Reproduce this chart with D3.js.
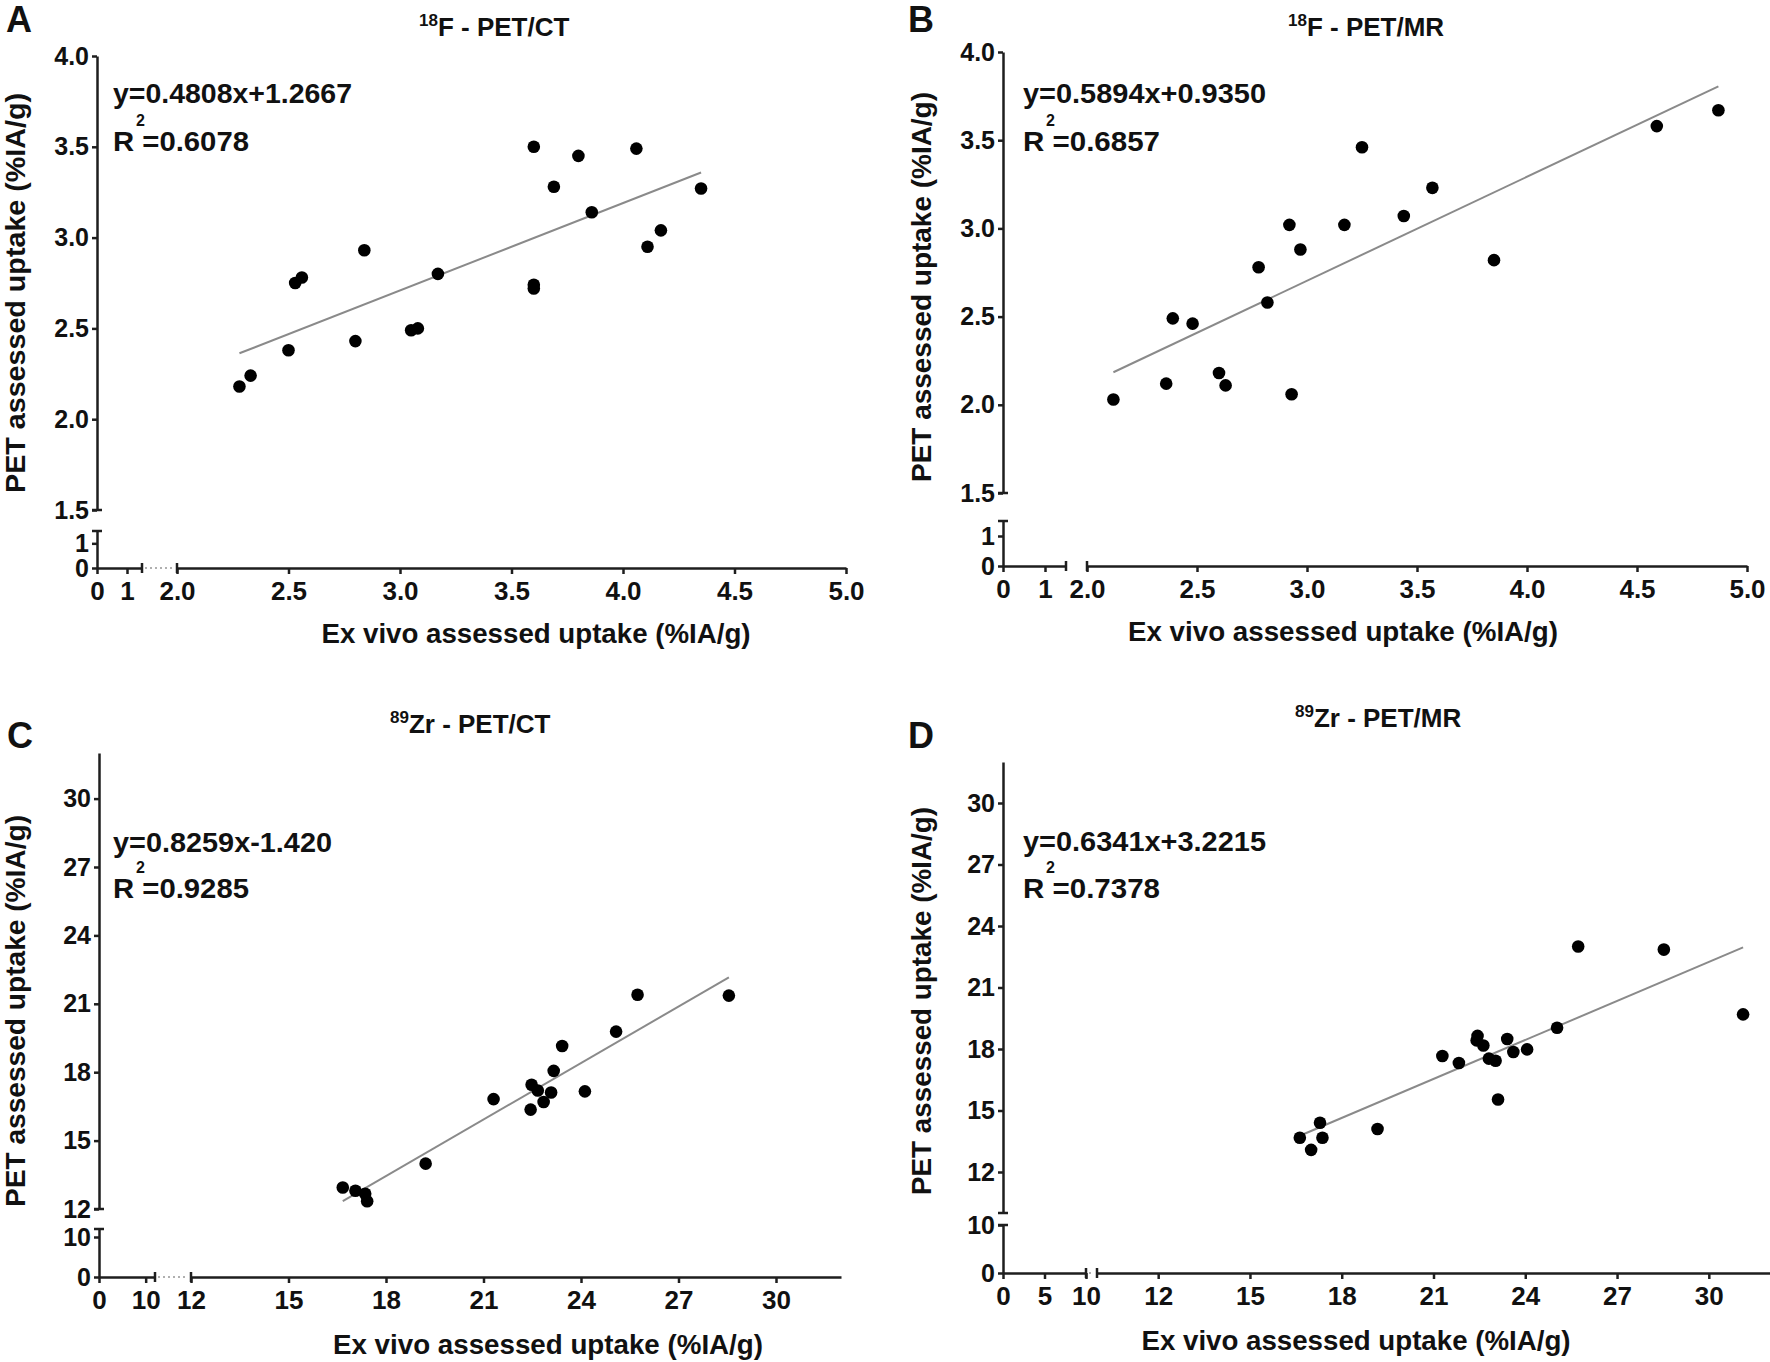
<!DOCTYPE html>
<html><head><meta charset="utf-8">
<script src="https://cdn.jsdelivr.net/npm/d3@7"></script>
<style>
body{margin:0;background:#fff;}
svg{display:block;}
</style></head><body>
<svg id="chart" width="1770" height="1362"></svg>
<script>
// ---------------- DATA ----------------
const panelLetters = ["A", "B", "C", "D"];
const panelIsotopes = ["18", "18", "89", "89"];
const panelTitles = ["F - PET/CT", "F - PET/MR", "Zr - PET/CT", "Zr - PET/MR"];
const xAxisTitle = "Ex vivo assessed uptake (%IA/g)";
const yAxisTitle = "PET assessed uptake (%IA/g)";

const equations = ["y=0.4808x+1.2667", "y=0.5894x+0.9350", "y=0.8259x-1.420", "y=0.6341x+3.2215"];
const r2Labels = ["R =0.6078", "R =0.6857", "R =0.9285", "R =0.7378"];
const slopes = [0.4808, 0.5894, 0.8259, 0.6341];
const intercepts = [1.2667, 0.9350, -1.420, 3.2215];

// Panel A: 18F PET/CT
const aExVivo = [2.28, 2.33, 2.50, 2.53, 2.56, 2.80, 2.84, 3.05, 3.08, 3.17, 3.60, 3.60, 3.60, 3.69, 3.80, 3.86, 4.06, 4.11, 4.17, 4.35];
const aPET    = [2.18, 2.24, 2.38, 2.75, 2.78, 2.43, 2.93, 2.49, 2.50, 2.80, 3.50, 2.74, 2.72, 3.28, 3.45, 3.14, 3.49, 2.95, 3.04, 3.27];
// Panel B: 18F PET/MR
const bExVivo = [2.12, 2.36, 2.39, 2.48, 2.60, 2.63, 2.78, 2.82, 2.92, 2.93, 2.97, 3.17, 3.25, 3.44, 3.57, 3.85, 4.59, 4.87];
const bPET    = [2.03, 2.12, 2.49, 2.46, 2.18, 2.11, 2.78, 2.58, 3.02, 2.06, 2.88, 3.02, 3.46, 3.07, 3.23, 2.82, 3.58, 3.67];
// Panel C: 89Zr PET/CT
const cExVivo = [16.67, 17.06, 17.36, 17.42, 19.22, 21.31, 22.45, 22.48, 22.67, 22.85, 23.08, 23.16, 23.42, 24.12, 25.08, 25.74, 28.55];
const cPET    = [12.94, 12.80, 12.67, 12.34, 13.99, 16.82, 16.36, 17.45, 17.20, 16.69, 17.11, 18.06, 19.15, 17.16, 19.78, 21.40, 21.36];
// Panel D: 89Zr PET/MR
const dExVivo = [16.63, 17.00, 17.29, 17.37, 19.17, 21.29, 21.83, 22.41, 22.44, 22.63, 22.81, 23.03, 23.11, 23.41, 23.61, 24.06, 25.04, 25.73, 28.53, 31.12];
const dPET    = [13.67, 13.08, 14.40, 13.67, 14.10, 17.66, 17.32, 18.42, 18.64, 18.17, 17.53, 17.43, 15.54, 18.49, 17.85, 17.98, 19.04, 23.00, 22.85, 19.69];

// Axis domains and tick values (lower = segment below/left of the axis break)
const xLowDomains  = [[0, 1.5], [0, 1.5], [0, 12], [0, 10]];
const xHighDomains = [[2, 5], [2, 5], [12, 32], [10, 32]];
const yLowDomains  = [[0, 1.5], [0, 1.5], [0, 12], [0, 10]];
const yHighDomains = [[1.5, 4], [1.5, 4], [12, 32], [10, 32]];
const xLowTicks  = [[0, 1], [0, 1], [0, 10], [0, 5, 10]];
const xHighTicks = [[2.0, 2.5, 3.0, 3.5, 4.0, 4.5, 5.0], [2.0, 2.5, 3.0, 3.5, 4.0, 4.5, 5.0], [12, 15, 18, 21, 24, 27, 30], [12, 15, 18, 21, 24, 27, 30]];
const yLowTicks  = [[0, 1], [0, 1], [0, 10], [0, 10]];
const yHighTicks = [[1.5, 2.0, 2.5, 3.0, 3.5, 4.0], [1.5, 2.0, 2.5, 3.0, 3.5, 4.0], [12, 15, 18, 21, 24, 27, 30], [12, 15, 18, 21, 24, 27, 30]];
const highTickFormats = [".1f", ".1f", "d", "d"];
const xExVivo = [aExVivo, bExVivo, cExVivo, dExVivo];
const yPET = [aPET, bPET, cPET, dPET];

// ---------------- LAYOUT ----------------
const layouts = [
  { xLow: [97, 142], xHigh: [177, 846], yLow: [568, 531], yHigh: [510, 56], gapDots: true,
    letter: [6, 32], title: [419, 36], eq: [113, 103, 239], r2: [113, 151, 136],
    yTitle: [25, 293, 400], xTitle: [536, 643, 429] },
  { xLow: [1003, 1066], xHigh: [1087, 1747], yLow: [566, 521], yHigh: [493, 52], gapDots: false,
    letter: [908, 32], title: [1288, 36], eq: [1023, 103, 243], r2: [1023, 151, 137],
    yTitle: [931, 287, 390], xTitle: [1343, 641, 430] },
  { xLow: [99, 155], xHigh: [191, 841], yLow: [1277, 1229], yHigh: [1209, 753], gapDots: true,
    letter: [7, 748], title: [390, 733], eq: [113, 852, 219], r2: [113, 898, 136],
    yTitle: [25, 1011, 392], xTitle: [548, 1354, 430] },
  { xLow: [1003, 1086], xHigh: [1097, 1770], yLow: [1273, 1225], yHigh: [1213, 762], gapDots: true,
    letter: [908, 748], title: [1295, 727], eq: [1023, 851, 243], r2: [1023, 898, 137],
    yTitle: [931, 1001, 388], xTitle: [1356, 1350, 429] }
];

const FONT = "'Liberation Sans', Arial, Helvetica, sans-serif";
const AXIS_COLOR = "#1e1e1e";
const svg = d3.select("#chart");
svg.append("rect").attr("width", 1770).attr("height", 1362).attr("fill", "#fff");

function styleAxis(sel, size) {
  sel.attr("font-family", FONT).attr("font-size", size).attr("font-weight", "bold");
  sel.select(".domain").attr("stroke", AXIS_COLOR).attr("stroke-width", 2.5);
  sel.selectAll(".tick line").attr("stroke", AXIS_COLOR).attr("stroke-width", 2.5);
  sel.selectAll(".tick text").attr("fill", "#111");
}

function drawPanel(i) {
  const L = layouts[i];
  const g = svg.append("g");
  const xl = d3.scaleLinear().domain(xLowDomains[i]).range(L.xLow);
  const xh = d3.scaleLinear().domain(xHighDomains[i]).range(L.xHigh);
  const yl = d3.scaleLinear().domain(yLowDomains[i]).range(L.yLow);
  const yh = d3.scaleLinear().domain(yHighDomains[i]).range(L.yHigh);
  const ax = L.xLow[0], ay = L.yLow[0];
  const fmt = d3.format(highTickFormats[i]);

  // gap marker on the x axis
  if (L.gapDots) {
    g.append("line").attr("x1", L.xLow[1] + 3).attr("x2", L.xHigh[0] - 3)
      .attr("y1", ay).attr("y2", ay).attr("stroke", "#b0b0b0").attr("stroke-width", 2)
      .attr("stroke-dasharray", "2,3");
  }

  // axes
  g.append("g").attr("transform", `translate(0,${ay})`)
    .call(d3.axisBottom(xl).tickValues(xLowTicks[i]).tickFormat(d3.format("d")).tickSize(6).tickSizeOuter(0).tickPadding(8))
    .call(s => styleAxis(s, 26));
  g.append("g").attr("transform", `translate(0,${ay})`)
    .call(d3.axisBottom(xh).tickValues(xHighTicks[i]).tickFormat(fmt).tickSize(6).tickSizeOuter(0).tickPadding(8))
    .call(s => styleAxis(s, 26));
  g.append("g").attr("transform", `translate(${ax},0)`)
    .call(d3.axisLeft(yl).tickValues(yLowTicks[i]).tickFormat(d3.format("d")).tickSize(5).tickSizeOuter(0).tickPadding(3))
    .call(s => styleAxis(s, 25));
  g.append("g").attr("transform", `translate(${ax},0)`)
    .call(d3.axisLeft(yh).tickValues(yHighTicks[i]).tickFormat(fmt).tickSize(5).tickSizeOuter(0).tickPadding(3))
    .call(s => styleAxis(s, 25));

  // break brackets
  const br = [];
  br.push([L.xLow[1], ay - 5, L.xLow[1], ay + 5]);
  br.push([L.xHigh[0], ay - 5, L.xHigh[0], ay + 5]);
  br.push([ax - 5, L.yLow[1], ax + 5, L.yLow[1]]);
  br.push([ax - 5, L.yHigh[0], ax + 5, L.yHigh[0]]);
  g.selectAll("line.brk").data(br).join("line").attr("class", "brk")
    .attr("x1", d => d[0]).attr("y1", d => d[1]).attr("x2", d => d[2]).attr("y2", d => d[3])
    .attr("stroke", AXIS_COLOR).attr("stroke-width", 2.5);

  // regression line over data range
  const xs = xExVivo[i], ys = yPET[i];
  const xmin = d3.min(xs), xmax = d3.max(xs);
  const fit = [xmin, xmax].map(v => [v, slopes[i] * v + intercepts[i]]);
  g.append("path").attr("d", d3.line().x(d => xh(d[0])).y(d => yh(d[1]))(fit))
    .attr("stroke", "#8a8a8a").attr("stroke-width", 2).attr("fill", "none");

  // points
  g.selectAll("circle").data(xs.map((v, k) => [v, ys[k]])).join("circle")
    .attr("cx", d => xh(d[0])).attr("cy", d => yh(d[1])).attr("r", 6.3).attr("fill", "#000");

  // texts
  const txt = (x, y, s, size) => g.append("text").attr("x", x).attr("y", y)
    .attr("font-family", FONT).attr("font-weight", "bold").attr("font-size", size).attr("fill", "#111").text(s);

  txt(L.letter[0], L.letter[1], panelLetters[i], 36);

  const t = g.append("text").attr("x", L.title[0]).attr("y", L.title[1])
    .attr("font-family", FONT).attr("font-weight", "bold").attr("fill", "#111");
  t.append("tspan").attr("font-size", 17).attr("dy", -10).text(panelIsotopes[i]);
  t.append("tspan").attr("font-size", 26).attr("dy", 10).text(panelTitles[i]);

  txt(L.eq[0], L.eq[1], equations[i], 28).attr("textLength", L.eq[2]).attr("lengthAdjust", "spacingAndGlyphs");
  txt(L.r2[0], L.r2[1], r2Labels[i], 28).attr("textLength", L.r2[2]).attr("lengthAdjust", "spacingAndGlyphs");
  txt(L.r2[0] + 23, L.r2[1] - 25, "2", 16);

  g.append("text").attr("transform", `translate(${L.yTitle[0]},${L.yTitle[1]}) rotate(-90)`)
    .attr("text-anchor", "middle").attr("font-family", FONT).attr("font-weight", "bold")
    .attr("font-size", 28).attr("fill", "#111")
    .attr("textLength", L.yTitle[2]).attr("lengthAdjust", "spacingAndGlyphs").text(yAxisTitle);

  g.append("text").attr("x", L.xTitle[0]).attr("y", L.xTitle[1])
    .attr("text-anchor", "middle").attr("font-family", FONT).attr("font-weight", "bold")
    .attr("font-size", 28).attr("fill", "#111")
    .attr("textLength", L.xTitle[2]).attr("lengthAdjust", "spacingAndGlyphs").text(xAxisTitle);
}

for (let i = 0; i < 4; i++) drawPanel(i);
</script>
</body></html>
